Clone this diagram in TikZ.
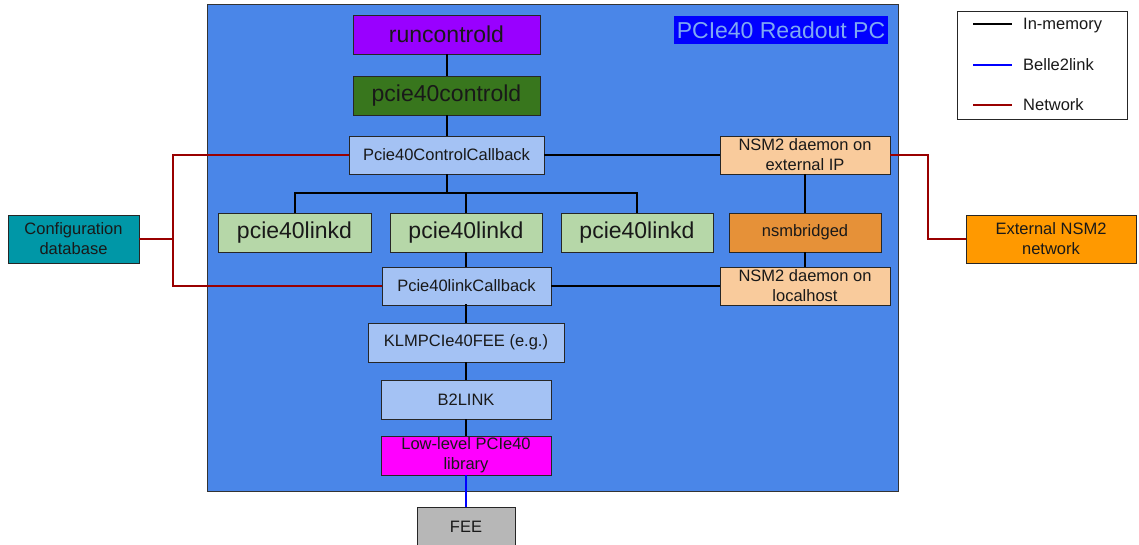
\documentclass[tikz,border=0pt]{standalone}
\usepackage{fontspec}
\setmainfont{Liberation Sans}

\definecolor{pcblue}{HTML}{4A86E8}
\definecolor{titlebg}{HTML}{0000FF}
\definecolor{titlefg}{HTML}{7FA9F2}
\definecolor{runpurple}{HTML}{9900FF}
\definecolor{ctlgreen}{HTML}{38761D}
\definecolor{cbblue}{HTML}{A4C2F4}
\definecolor{linkgreen}{HTML}{B6D7A8}
\definecolor{nsmpeach}{HTML}{F9CB9C}
\definecolor{bridgeorange}{HTML}{E69138}
\definecolor{cfgteal}{HTML}{0097A7}
\definecolor{extorange}{HTML}{FF9900}
\definecolor{libmagenta}{HTML}{FF00FF}
\definecolor{feegrey}{HTML}{B7B7B7}
\definecolor{netred}{HTML}{990000}
\definecolor{linkblue}{HTML}{0000FF}

\newcommand\lblbig{\fontsize{23}{27.6}\selectfont}
\newcommand\lblsmall{\fontsize{16.5}{19.8}\selectfont}

\begin{document}
\begin{tikzpicture}[x=1pt,y=-1pt,
  box/.style={draw=black!85, line width=0.9pt, inner sep=0pt, align=center,
              text=black!90},
  sz/.style 2 args={minimum width=#1pt, minimum height=#2pt},
  bigbox/.style={box, font=\lblbig},
  smallbox/.style={box, font=\lblsmall},
  mem/.style={draw=black, line width=2pt},
  net/.style={draw=netred, line width=2pt},
  b2l/.style={draw=linkblue, line width=2pt},
  legtext/.style={anchor=base west, inner sep=0pt, font=\lblsmall, text=black!90}]

\useasboundingbox (0,0) rectangle (1139,545);
\clip (0,0) rectangle (1139,545);

% readout PC enclosure and its title
\node[draw=black!80, line width=0.9pt, fill=pcblue, inner sep=0pt,
      sz={691}{487}, anchor=north west] (pc) at (207,4) {};
\node[fill=titlebg, text=titlefg, inner sep=0pt, sz={214}{28},
      font=\lblbig] (title) at (781,30) {PCIe40 Readout PC};

% legend
\node[draw=black!85, line width=0.9pt, fill=white, inner sep=0pt,
      sz={170}{108}, anchor=north west] (legend) at (957,11) {};
\coordinate (lgA) at (973,24);  \coordinate (lgA2) at (1012,24);
\coordinate (lgB) at (973,65);  \coordinate (lgB2) at (1012,65);
\coordinate (lgC) at (973,105); \coordinate (lgC2) at (1012,105);
\draw[mem] (lgA) -- (lgA2);
\draw[b2l] (lgB) -- (lgB2);
\draw[net] (lgC) -- (lgC2);
\node[legtext] (lgtA) at (1023,30) {In-memory};
\node[legtext] (lgtB) at (1023,71) {Belle2link};
\node[legtext] (lgtC) at (1023,111) {Network};

% daemons and callbacks
\node[bigbox, fill=runpurple, sz={187}{39}] (run)  at (446.5,34.5) {runcontrold};
\node[bigbox, fill=ctlgreen,  sz={187}{39}] (ctld) at (446.5,95.5) {pcie40controld};
\node[smallbox, fill=cbblue,  sz={195}{38}] (pcb)  at (446.5,155) {Pcie40ControlCallback};
\node[smallbox, fill=nsmpeach, sz={170}{38}] (nsmext) at (805,155) {NSM2 daemon on\\external IP};

\node[bigbox, fill=linkgreen, sz={153}{39}] (l1) at (294.5,232.5) {pcie40linkd};
\node[bigbox, fill=linkgreen, sz={152}{39}] (l2) at (466,232.5) {pcie40linkd};
\node[bigbox, fill=linkgreen, sz={152}{39}] (l3) at (637,232.5) {pcie40linkd};
\node[smallbox, fill=bridgeorange, sz={152}{39}] (nsmb) at (805,232.5) {nsmbridged};

\node[smallbox, fill=cbblue,   sz={169}{38}] (plcb)   at (466.5,286) {Pcie40linkCallback};
\node[smallbox, fill=nsmpeach, sz={170}{38}] (nsmloc) at (805,286) {NSM2 daemon on\\localhost};

\node[smallbox, fill=cbblue, sz={196}{39}] (klm) at (466,342.5) {KLMPCIe40FEE (e.g.)};
\node[smallbox, fill=cbblue, sz={170}{39}] (b2)  at (466,399.5) {B2LINK};
\node[smallbox, fill=libmagenta, sz={170}{39}] (low) at (466,455.5) {Low-level PCIe40\\library};
\node[smallbox, fill=feegrey, sz={98}{40}] (fee) at (466,527) {FEE};

% outside the PC
\node[smallbox, fill=cfgteal,   sz={131}{48}] (cfg) at (73.5,239) {Configuration\\database};
\node[smallbox, fill=extorange, sz={170}{48}] (ext) at (1051,239) {External NSM2\\network};

% in-memory links
\draw[mem] (run) -- (ctld);
\draw[mem] (ctld.south) -- (ctld.south |- pcb.north);
\coordinate (bus) at (446.5,193);
\draw[mem] (pcb.south) -- (bus);
\draw[mem] (l1.north) |- (bus) -| (l3.north);
\draw[mem] (l2.north) -- (l2.north |- bus);
\draw[mem] (l2.south) -- (l2.south |- plcb.north);
\draw[mem] (pcb.east) -- (nsmext.west);
\draw[mem] (nsmext) -- (nsmb);
\draw[mem] (nsmb) -- (nsmloc);
\draw[mem] (plcb.east) -- (nsmloc.west);
\draw[mem] (plcb.south) -- (plcb.south -| klm.north) -- (klm.north);
\draw[mem] (klm) -- (b2);
\draw[mem] (b2) -- (low);

% network links
\coordinate (nl) at (173,239);
\coordinate (nr) at (928,239);
\draw[net] (pcb.west) -| (nl) |- (plcb.west);
\draw[net] (cfg.east) -- (nl);
\draw[net] (nsmext.east) -| (nr) -- (ext.west);

% Belle2link
\draw[b2l] (low.south) -- (fee.north);
\end{tikzpicture}
\end{document}
